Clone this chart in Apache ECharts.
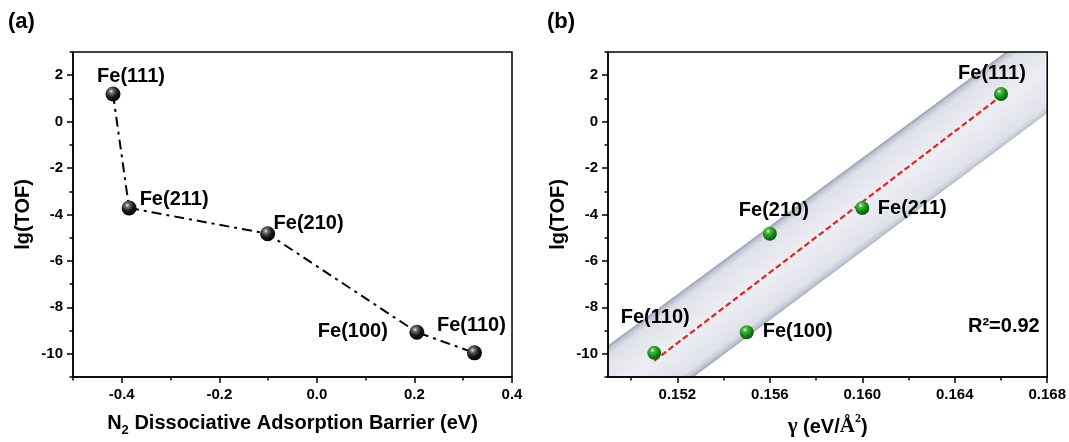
<!DOCTYPE html>
<html><head><meta charset="utf-8">
<script src="https://cdn.jsdelivr.net/npm/echarts@6/dist/echarts.min.js"></script>
<style>html,body{margin:0;padding:0;background:#fff}#c{width:1069px;height:442px}</style>
</head><body><div id="c"></div>
<script>
// ---- data ----
const facets = ['Fe(111)', 'Fe(211)', 'Fe(210)', 'Fe(100)', 'Fe(110)'];
const barrier = [-0.418, -0.385, -0.101, 0.205, 0.323];
const lgTOF = [1.19, -3.72, -4.83, -9.07, -9.96];
const gammaVals = [0.166, 0.160, 0.156, 0.155, 0.151];
const fitX = [0.151, 0.166];
const fitY = [-10.3, 1.1];
const bandUpperX = [0.149, 0.1662];
const bandUpperY = [-9.64, 3];
const bandLowerX = [0.1527, 0.168];
const bandLowerY = [-11, 0.36];
const yMajor = [-10, -8, -6, -4, -2, 0, 2];
const yMinor = [-11, -9, -7, -5, -3, -1, 1, 3];
const xAMajor = [-0.4, -0.2, 0.0, 0.2, 0.4];
const xAMinor = [-0.5, -0.3, -0.1, 0.1, 0.3];
const xBMajor = [0.152, 0.156, 0.160, 0.164, 0.168];
const xBMinor = [0.150, 0.154, 0.158, 0.162, 0.166];
const rSquaredText = 'R²=0.92';

// ---- layout / style ----
const Y_MIN = -11, Y_MAX = 3;
const XA_MIN = -0.5, XA_MAX = 0.4;
const XB_MIN = 0.149, XB_MAX = 0.168;
const labelOffA = [[18, -18], [45, -9], [41, -10], [-64, -1], [-3, -27]];
const labelOffB = [[-9, -21], [50, 0], [4, -23], [51, -1], [1, -35]];
const FONT = '"Liberation Sans", Arial, sans-serif';
const SERIF = '"Liberation Serif", "Times New Roman", serif';

const blackSphere = {type: 'radial', x: 0.38, y: 0.32, r: 0.72, colorStops: [
  {offset: 0, color: '#e8e8e8'}, {offset: 0.2, color: '#707070'},
  {offset: 0.55, color: '#1a1a1a'}, {offset: 1, color: '#000'}]};
const greenSphere = {type: 'radial', x: 0.38, y: 0.32, r: 0.72, colorStops: [
  {offset: 0, color: '#e2f8d8'}, {offset: 0.22, color: '#4cb846'},
  {offset: 0.6, color: '#128816'}, {offset: 1, color: '#08520a'}]};
const bandStops = [
  {offset: 0, color: '#979cae'}, {offset: 0.04, color: '#c2c5d2'},
  {offset: 0.11, color: '#e0e2ea'}, {offset: 0.5, color: '#eceef3'},
  {offset: 0.89, color: '#e0e2ea'}, {offset: 0.96, color: '#c2c5d2'},
  {offset: 1, color: '#979cae'}];

const tickLabel = {fontSize: 15, fontWeight: 'bold', color: '#000', fontFamily: FONT};
const axisLineStyle = {show: true, onZero: false, lineStyle: {color: '#000', width: 1.5}};

function labelFor(off) {
  return {show: true, position: 'inside', offset: off, align: 'center', verticalAlign: 'middle',
    fontSize: 20, fontWeight: 'bold', color: '#000', opacity: 1, textBorderWidth: 0, fontFamily: FONT,
    formatter: p => facets[p.dataIndex]};
}
const dataA = barrier.map((x, i) => ({value: [x, lgTOF[i]], label: labelFor(labelOffA[i])}));
const dataB = gammaVals.map((x, i) => ({value: [x, lgTOF[i]], label: labelFor(labelOffB[i])}));

function mainX(grid, min, max, major, digits, name, rich) {
  return {gridIndex: grid, type: 'value', min, max, z: 5, position: 'bottom',
    axisLine: axisLineStyle,
    axisTick: {show: true, customValues: major, length: 6, lineStyle: {color: '#000', width: 1.5}},
    axisLabel: Object.assign({customValues: major, margin: 10, formatter: v => Number(v).toFixed(digits)}, tickLabel),
    splitLine: {show: false},
    name, nameLocation: 'middle', nameGap: 36,
    nameTextStyle: {rich}};
}
function minorX(grid, min, max, minor) {
  return {gridIndex: grid, type: 'value', min, max, z: 5, position: 'bottom',
    axisLine: {show: false, onZero: false},
    axisTick: {show: true, customValues: minor, length: 3.5, lineStyle: {color: '#000', width: 1.5}},
    axisLabel: {show: false}, splitLine: {show: false}};
}
function mainY(grid) {
  return {gridIndex: grid, type: 'value', min: Y_MIN, max: Y_MAX, z: 5, position: 'left',
    axisLine: axisLineStyle,
    axisTick: {show: true, customValues: yMajor, length: 6, lineStyle: {color: '#000', width: 1.5}},
    axisLabel: Object.assign({customValues: yMajor, margin: 10, formatter: v => String(v)}, tickLabel),
    splitLine: {show: false},
    name: 'lg(TOF)', nameLocation: 'middle', nameGap: 40,
    nameTextStyle: {fontSize: 20, fontWeight: 'bold', color: '#000', fontFamily: FONT}};
}
function minorY(grid) {
  return {gridIndex: grid, type: 'value', min: Y_MIN, max: Y_MAX, z: 5, position: 'left',
    axisLine: {show: false, onZero: false},
    axisTick: {show: true, customValues: yMinor, length: 3.5, lineStyle: {color: '#000', width: 1.5}},
    axisLabel: {show: false}, splitLine: {show: false}};
}

const richA = {
  n: {fontSize: 20, fontWeight: 'bold', color: '#000', fontFamily: FONT, lineHeight: 24, verticalAlign: 'top'},
  s: {fontSize: 13, fontWeight: 'bold', color: '#000', fontFamily: FONT, lineHeight: 14, padding: [14, 0, 0, 0], verticalAlign: 'bottom'}
};
const richB = {
  g: {fontSize: 21, fontWeight: 'bold', color: '#000', fontFamily: SERIF, lineHeight: 24, verticalAlign: 'bottom'},
  n: {fontSize: 20, fontWeight: 'bold', color: '#000', fontFamily: FONT, lineHeight: 24, verticalAlign: 'bottom'},
  a: {fontSize: 21, fontWeight: 'bold', color: '#000', fontFamily: SERIF, lineHeight: 24, verticalAlign: 'bottom'},
  p: {fontSize: 12, fontWeight: 'bold', color: '#000', fontFamily: SERIF, lineHeight: 12, verticalAlign: 'top'}
};

const chart = echarts.init(document.getElementById('c'), null, {renderer: 'canvas'});
chart.setOption({
  animation: false,
  backgroundColor: '#fff',
  grid: [
    {left: 73, top: 52, width: 439, height: 327, show: true, borderColor: '#000', borderWidth: 1.5, z: 5},
    {left: 608, top: 52, width: 440, height: 327, show: true, borderColor: '#000', borderWidth: 1.5, z: 5}
  ],
  xAxis: [
    mainX(0, XA_MIN, XA_MAX, xAMajor, 1, '{n|N}{s|2}{n| Dissociative Adsorption Barrier (eV)}', richA),
    minorX(0, XA_MIN, XA_MAX, xAMinor),
    mainX(1, XB_MIN, XB_MAX, xBMajor, 3, '{g|γ}{n| (eV/}{a|Å}{p|2}{n|)}', richB),
    minorX(1, XB_MIN, XB_MAX, xBMinor)
  ],
  yAxis: [mainY(0), minorY(0), mainY(1), minorY(1)],
  graphic: [
    {type: 'text', left: 8, top: 11, style: {text: '(a)', font: 'bold 22px ' + FONT, fill: '#000'}},
    {type: 'text', left: 547, top: 11, style: {text: '(b)', font: 'bold 22px ' + FONT, fill: '#000'}},
    {type: 'text', left: 968, top: 316, style: {text: rSquaredText, font: 'bold 20px ' + FONT, fill: '#000'}}
  ],
  series: [
    {
      type: 'line', xAxisIndex: 0, yAxisIndex: 0, data: dataA, z: 3,
      symbol: 'circle', symbolSize: 15,
      itemStyle: {color: blackSphere, opacity: 1},
      lineStyle: {color: '#000', width: 2, type: [10, 5, 3, 5]}
    },
    {
      type: 'custom', xAxisIndex: 2, yAxisIndex: 2, z: 1, silent: true,
      data: [[XB_MIN, Y_MIN]],
      renderItem: function (params, api) {
        const P = (x, y) => api.coord([x, y]);
        const A = P(bandUpperX[0], bandUpperY[0]);
        const B = P(bandUpperX[1], bandUpperY[1]);
        const C = P(XB_MAX, Y_MAX);
        const D = P(bandLowerX[1], bandLowerY[1]);
        const E = P(bandLowerX[0], bandLowerY[0]);
        const F = P(XB_MIN, Y_MIN);
        const dx = B[0] - A[0], dy = B[1] - A[1];
        const L = Math.hypot(dx, dy);
        let nx = -dy / L, ny = dx / L;
        if (nx * (E[0] - A[0]) + ny * (E[1] - A[1]) < 0) { nx = -nx; ny = -ny; }
        const ex = D[0] - E[0], ey = D[1] - E[1];
        const EL = Math.hypot(ex, ey);
        const dist = Math.abs((A[0] - E[0]) * ey - (A[1] - E[1]) * ex) / EL;
        return {
          type: 'polygon',
          shape: {points: [A, B, C, D, E, F]},
          style: {fill: {type: 'linear', x: A[0], y: A[1], x2: A[0] + nx * dist, y2: A[1] + ny * dist,
            colorStops: bandStops, global: true}}
        };
      }
    },
    {
      type: 'line', xAxisIndex: 2, yAxisIndex: 2, z: 3, symbol: 'none',
      data: fitX.map((x, i) => [x, fitY[i]]),
      lineStyle: {color: '#e8231e', width: 2.2, type: [6, 3]}
    },
    {
      type: 'scatter', xAxisIndex: 2, yAxisIndex: 2, z: 4, data: dataB,
      symbol: 'circle', symbolSize: 14,
      itemStyle: {color: greenSphere, opacity: 1}
    }
  ]
});
</script>
</body></html>
